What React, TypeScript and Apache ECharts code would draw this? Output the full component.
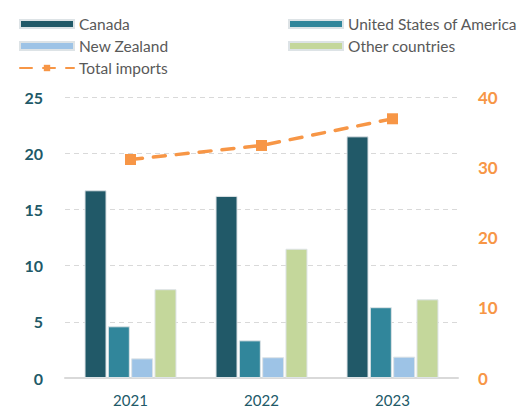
import React, { useEffect, useRef } from "react";
import * as echarts from "echarts";

const years = ["2021", "2022", "2023"];
const canada = [16.7, 16.2, 21.5];
const usa = [4.6, 3.35, 6.3];
const newZealand = [1.75, 1.85, 1.9];
const otherCountries = [7.9, 11.5, 7.0];
const totalImports = [31.1, 33.1, 36.9];

const FONT = "Lato, 'Open Sans', sans-serif";

export default function App() {
  const ref = useRef<HTMLDivElement>(null);
  useEffect(() => {
    if (!ref.current) return;
    const chart = echarts.init(ref.current, undefined, { renderer: "svg" });
    const barStyle = (c: string) => ({ color: c, borderColor: "#dde3e6", borderWidth: 1 });
    const legendText = { color: "#595959", fontSize: 15.5, lineHeight: 15, fontFamily: FONT };
    chart.setOption({
      animation: false,
      textStyle: { fontFamily: FONT },
      grid: { left: 65, right: 63, top: 97, bottom: 32 },
      legend: [
        {
          left: 14,
          top: 11,
          orient: "vertical",
          itemWidth: 54,
          itemHeight: 8,
          itemGap: 6,
          data: [
            { name: "Canada", icon: "rect" },
            { name: "New Zealand", icon: "rect" },
            "Total imports",
          ],
          textStyle: legendText,
        },
        {
          left: 283,
          top: 11,
          orient: "vertical",
          itemWidth: 54,
          itemHeight: 8,
          itemGap: 6,
          data: [
            { name: "United States of America", icon: "rect" },
            { name: "Other countries", icon: "rect" },
          ],
          textStyle: legendText,
        },
      ],
      xAxis: {
        type: "category",
        data: years,
        axisLine: { lineStyle: { color: "#d9d9d9", width: 2 } },
        axisTick: { show: false },
        axisLabel: { color: "#215968", fontSize: 15, margin: 14, fontFamily: FONT },
      },
      yAxis: [
        {
          type: "value",
          min: 0,
          max: 25,
          interval: 5,
          axisLine: { show: false },
          axisTick: { show: false },
          axisLabel: { color: "#215968", fontSize: 16, fontWeight: "bold", margin: 22, fontFamily: FONT },
          splitLine: { lineStyle: { color: "#d9d9d9", type: [5, 4], width: 1 } },
        },
        {
          type: "value",
          min: 0,
          max: 40,
          interval: 10,
          position: "right",
          axisLine: { show: false },
          axisTick: { show: false },
          axisLabel: { color: "#F79646", fontSize: 17, fontWeight: "bold", margin: 20, align: "left", fontFamily: FONT },
          splitLine: { show: false },
        },
      ],
      series: [
        { name: "Canada", type: "bar", data: canada, barWidth: 22, barGap: "6%", itemStyle: barStyle("#215968") },
        { name: "United States of America", type: "bar", data: usa, barWidth: 22, barGap: "6%", itemStyle: barStyle("#31869B") },
        { name: "New Zealand", type: "bar", data: newZealand, barWidth: 22, barGap: "6%", itemStyle: barStyle("#9DC3E6") },
        { name: "Other countries", type: "bar", data: otherCountries, barWidth: 22, barGap: "6%", itemStyle: barStyle("#C4D79B") },
        {
          name: "Total imports",
          type: "line",
          yAxisIndex: 1,
          data: totalImports,
          symbol: "rect",
          symbolSize: 11,
          itemStyle: { color: "#F79646" },
          lineStyle: { color: "#F79646", width: 3.5, type: [12, 11], cap: "round" },
          z: 5,
        },
      ],
    });
    return () => chart.dispose();
  }, []);
  return <div ref={ref} style={{ width: 521, height: 410, position: "absolute", left: 0, top: 0 }} />;
}
